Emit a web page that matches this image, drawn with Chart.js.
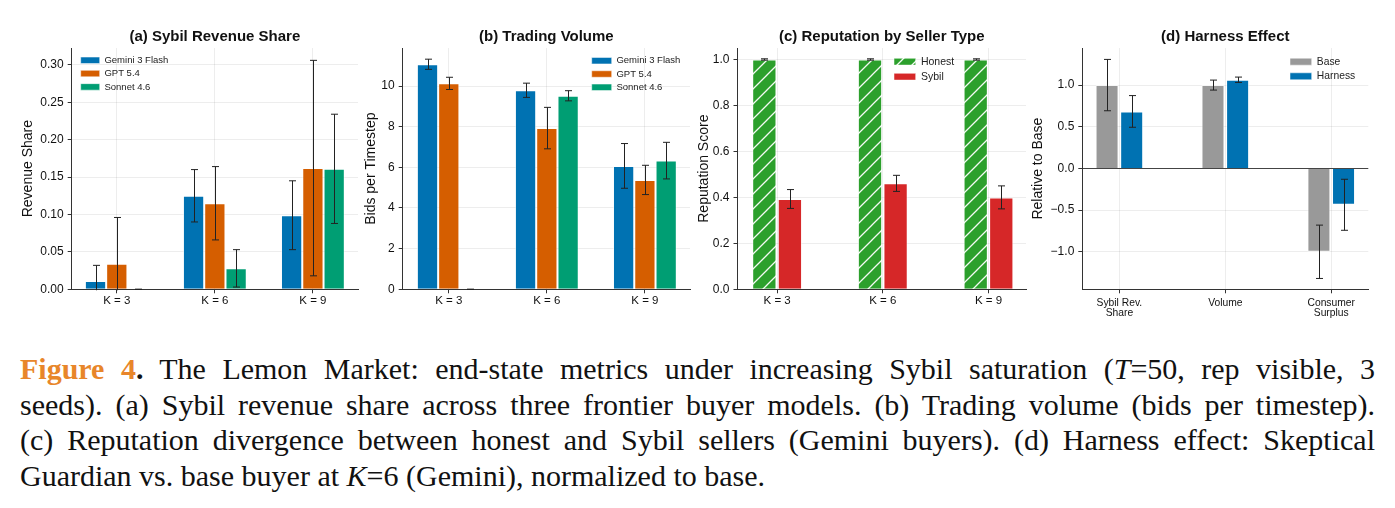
<!DOCTYPE html>
<html>
<head>
<meta charset="utf-8">
<script src="https://cdn.jsdelivr.net/npm/chart.js@4.4.0/dist/chart.umd.min.js"></script>
<style>
  body { margin: 0; background: #fff; width: 1395px; height: 508px; overflow: hidden; position: relative; }
  canvas { position: absolute; top: 0; }
  #caption { position: absolute; left: 20px; top: 351px; width: 1355px; font-family: 'Liberation Serif', 'DejaVu Serif', serif; font-size: 30px; line-height: 35.5px; color: #111; }
  #caption .ln { text-align: justify; text-align-last: justify; }
  #caption .ln.last { text-align: left; text-align-last: left; }
  #caption .fig { color: #e8862a; font-weight: bold; }
</style>
</head>
<body>
<canvas id="panelA" width="348" height="335" style="left:16px"></canvas>
<canvas id="panelB" width="338" height="335" style="left:359px"></canvas>
<canvas id="panelC" width="342" height="335" style="left:692px"></canvas>
<canvas id="panelD" width="355" height="335" style="left:1026px"></canvas>
<div id="caption">
  <div class="ln"><span class="fig">Figure 4</span><b>.</b> The Lemon Market: end-state metrics under increasing Sybil saturation (<i>T</i>=50, rep visible, 3</div>
  <div class="ln">seeds). (a) Sybil revenue share across three frontier buyer models. (b) Trading volume (bids per timestep).</div>
  <div class="ln">(c) Reputation divergence between honest and Sybil sellers (Gemini buyers). (d) Harness effect: Skeptical</div>
  <div class="ln last">Guardian vs. base buyer at <i>K</i>=6 (Gemini), normalized to base.</div>
</div>
<script>
// categories
const groupsK = ['K = 3', 'K = 6', 'K = 9'];
const buyerModels = ['Gemini 3 Flash', 'GPT 5.4', 'Sonnet 4.6'];
const sellerTypes = ['Honest', 'Sybil'];
const harnessVariants = ['Base', 'Harness'];
const harnessMetrics = [['Sybil Rev.', 'Share'], 'Volume', ['Consumer', 'Surplus']];

// (a) sybil revenue share, mean and error
const revGemini = [0.011, 0.125, 0.099];
const revGeminiErr = [0.021, 0.035, 0.046];
const revGpt = [0.034, 0.115, 0.162];
const revGptErr = [0.062, 0.049, 0.144];
const revSonnet = [0.0, 0.028, 0.161];
const revSonnetErr = [0.0, 0.025, 0.073];

// (b) bids per timestep
const volGemini = [11.07, 9.79, 6.07];
const volGeminiErr = [0.25, 0.35, 1.1];
const volGpt = [10.13, 7.93, 5.38];
const volGptErr = [0.3, 1.02, 0.72];
const volSonnet = [0.0, 9.52, 6.33];
const volSonnetErr = [0.0, 0.25, 0.9];

// (c) reputation score
const repHonest = [1.0, 1.0, 1.0];
const repHonestErr = [0.003, 0.003, 0.003];
const repSybil = [0.393, 0.461, 0.400];
const repSybilErr = [0.041, 0.035, 0.050];

// (d) relative to base
const relBase = [1.0, 1.0, -1.0];
const relBaseErr = [0.308, 0.06, 0.32];
const relHarness = [0.684, 1.064, -0.436];
const relHarnessErr = [0.19, 0.032, 0.306];

// tick labels
const ticksRev = [0, 0.05, 0.10, 0.15, 0.20, 0.25, 0.30];
const ticksVol = [0, 2, 4, 6, 8, 10];
const ticksRep = [0, 0.2, 0.4, 0.6, 0.8, 1.0];
const ticksRel = [-1.0, -0.5, 0, 0.5, 1.0];

const SANS = "'Liberation Sans', Arial, Helvetica, sans-serif";
const GRID = 'rgba(0,0,0,0.07)';
const EDGE = 'rgba(255,255,255,0.5)';
const modelColors = ['#0072B2', '#D55E00', '#009E73'];

function makeHatch(fill, line, size) {
    const c = document.createElement('canvas');
    c.width = size;
    c.height = size;
    const g = c.getContext('2d');
    g.fillStyle = fill;
    g.fillRect(0, 0, size, size);
    g.strokeStyle = line;
    g.lineWidth = 1.3;
    g.beginPath();
    g.moveTo(0, size); g.lineTo(size, 0);
    g.moveTo(-size / 2, size / 2); g.lineTo(size / 2, -size / 2);
    g.moveTo(size / 2, size * 1.5); g.lineTo(size * 1.5, size / 2);
    g.stroke();
    return g.createPattern(c, 'repeat');
}

function toPoints(values) {
    return values.map((v, i) => ({ x: i, y: v }));
}

function barSet(label, values, errors, color) {
    return { label: label, data: toPoints(values), errors: errors, backgroundColor: color, borderColor: EDGE, borderWidth: 1 };
}

// draws mean +/- error whiskers on top of each bar
const errorBars = {
    id: 'errorBars',
    afterDatasetsDraw(chart) {
        const { ctx, chartArea, scales } = chart;
        ctx.save();
        ctx.beginPath();
        ctx.rect(chartArea.left, chartArea.top - 1, chartArea.width, chartArea.height + 2);
        ctx.clip();
        ctx.strokeStyle = '#222';
        ctx.lineWidth = 1;
        chart.data.datasets.forEach((ds, di) => {
            if (!ds.errors) return;
            chart.getDatasetMeta(di).data.forEach((bar, i) => {
                const v = ds.data[i].y;
                const e = ds.errors[i];
                const x = Math.round(bar.x) + 0.5;
                const hi = scales.y.getPixelForValue(v + e);
                const lo = scales.y.getPixelForValue(v - e);
                ctx.beginPath();
                ctx.moveTo(x, hi); ctx.lineTo(x, lo);
                ctx.moveTo(x - 3.5, hi); ctx.lineTo(x + 3.5, hi);
                ctx.moveTo(x - 3.5, lo); ctx.lineTo(x + 3.5, lo);
                ctx.stroke();
            });
        });
        ctx.restore();
    }
};

// moves the legend box inside the plot area
const legendSpot = {
    id: 'legendSpot',
    afterLayout(chart, args, opts) {
        const lg = chart.legend;
        if (!lg) return;
        lg.left = chart.chartArea.left + opts.dx;
        lg.top = chart.chartArea.top + opts.dy;
        lg.right = lg.left + 220;
        lg.bottom = lg.top + 200;
    }
};

function makePanel(id, p) {
    const ctx = document.getElementById(id).getContext('2d');
    return new Chart(ctx, {
        type: 'bar',
        data: { datasets: p.datasets },
        options: {
            responsive: false,
            animation: false,
            devicePixelRatio: 1,
            layout: { padding: { left: 0, right: p.padRight, top: 0, bottom: 0 } },
            datasets: { bar: { categoryPercentage: p.catPct, barPercentage: p.barPct } },
            plugins: {
                title: {
                    display: true,
                    text: p.title,
                    fullSize: false,
                    color: '#111',
                    font: { family: SANS, size: 15, weight: 'bold' },
                    padding: { top: 27.7, bottom: 2.3 }
                },
                legend: {
                    position: 'chartArea',
                    align: 'start',
                    labels: {
                        color: '#222',
                        boxWidth: p.legend.boxW,
                        boxHeight: p.legend.boxH,
                        padding: p.legend.pad,
                        font: { family: SANS, size: p.legend.size }
                    }
                },
                legendSpot: { dx: p.legend.dx, dy: p.legend.dy },
                tooltip: { enabled: false }
            },
            scales: {
                x: {
                    type: 'linear',
                    bounds: 'data',
                    offset: false,
                    min: p.xMin,
                    max: p.xMax,
                    afterBuildTicks: (s) => { s.ticks = p.categories.map((c, i) => ({ value: i })); },
                    afterFit: (s) => { s.height = 45.7; },
                    ticks: {
                        callback: (v) => p.categories[v],
                        color: '#111',
                        maxRotation: 0,
                        minRotation: 0,
                        padding: p.xPad,
                        font: { family: SANS, size: p.xFont, lineHeight: 1.05 }
                    },
                    grid: { offset: false, color: GRID, tickColor: '#333', tickLength: 4 },
                    border: { color: '#333', width: 1 }
                },
                y: {
                    bounds: 'data',
                    min: p.yMin,
                    max: p.yMax,
                    afterBuildTicks: (s) => { s.ticks = p.yTicks.map((v) => ({ value: v })); },
                    afterFit: (s) => { s.width = p.yWidth; },
                    ticks: {
                        callback: (v) => (v < 0 ? '\u2212' : '') + Math.abs(v).toFixed(p.yDigits),
                        color: '#111',
                        padding: 4,
                        font: { family: SANS, size: 12 }
                    },
                    title: {
                        display: true,
                        text: p.yTitle,
                        color: '#111',
                        font: { family: SANS, size: 14 },
                        padding: { top: 4, bottom: 0 }
                    },
                    grid: {
                        color: (c) => (p.zeroLine && c.tick && c.tick.value === 0 ? '#444' : GRID),
                        tickColor: '#333',
                        tickLength: 4
                    },
                    border: { color: '#333', width: 1 }
                }
            }
        },
        plugins: [errorBars, legendSpot]
    });
}

function initializeCharts() {
    const honestHatch = makeHatch('#2ca02c', 'rgba(255,255,255,0.95)', 15);

    makePanel('panelA', {
        title: '(a) Sybil Revenue Share',
        yTitle: 'Revenue Share',
        categories: groupsK,
        datasets: [
            barSet(buyerModels[0], revGemini, revGeminiErr, modelColors[0]),
            barSet(buyerModels[1], revGpt, revGptErr, modelColors[1]),
            barSet(buyerModels[2], revSonnet, revSonnetErr, modelColors[2])
        ],
        yTicks: ticksRev, yDigits: 2, yMin: 0, yMax: 0.3225,
        xMin: -0.46, xMax: 2.46, catPct: 0.651, barPct: 1.0,
        yWidth: 55.7, padRight: 6, xPad: 1.5, xFont: 11.5,
        legend: { boxW: 19, boxH: 6.5, pad: 3.8, size: 9.5, dx: 5.2, dy: 3.75 }
    });

    makePanel('panelB', {
        title: '(b) Trading Volume',
        yTitle: 'Bids per Timestep',
        categories: groupsK,
        datasets: [
            barSet(buyerModels[0], volGemini, volGeminiErr, modelColors[0]),
            barSet(buyerModels[1], volGpt, volGptErr, modelColors[1]),
            barSet(buyerModels[2], volSonnet, volSonnetErr, modelColors[2])
        ],
        yTicks: ticksVol, yDigits: 0, yMin: 0, yMax: 11.87,
        xMin: -0.47, xMax: 2.46, catPct: 0.651, barPct: 1.0,
        yWidth: 43.7, padRight: 7, xPad: 1.5, xFont: 11.5,
        legend: { boxW: 20, boxH: 6.5, pad: 3.8, size: 9.5, dx: 185.2, dy: 4.15 }
    });

    makePanel('panelC', {
        title: '(c) Reputation by Seller Type',
        yTitle: 'Reputation Score',
        categories: groupsK,
        datasets: [
            barSet(sellerTypes[0], repHonest, repHonestErr, honestHatch),
            barSet(sellerTypes[1], repSybil, repSybilErr, '#d62728')
        ],
        yTicks: ticksRep, yDigits: 1, yMin: 0, yMax: 1.05,
        xMin: -0.375, xMax: 2.355, catPct: 0.484, barPct: 0.95,
        yWidth: 45.5, padRight: 8, xPad: 1.5, xFont: 11.5,
        legend: { boxW: 21.7, boxH: 6.8, pad: 4.5, size: 10.5, dx: 152, dy: 3.95 }
    });

    makePanel('panelD', {
        title: '(d) Harness Effect',
        yTitle: 'Relative to Base',
        categories: harnessMetrics,
        datasets: [
            barSet(harnessVariants[0], relBase, relBaseErr, '#999999'),
            barSet(harnessVariants[1], relHarness, relHarnessErr, '#0072B2')
        ],
        yTicks: ticksRel, yDigits: 1, yMin: -1.45, yMax: 1.445, zeroLine: true,
        xMin: -0.35, xMax: 2.35, catPct: 0.465, barPct: 0.935,
        yWidth: 56.3, padRight: 12.7, xPad: 4, xFont: 10.3,
        legend: { boxW: 21.7, boxH: 7, pad: 4.3, size: 10.3, dx: 203.4, dy: 4.25 }
    });
}

document.addEventListener('DOMContentLoaded', initializeCharts);
</script>
</body>
</html>
